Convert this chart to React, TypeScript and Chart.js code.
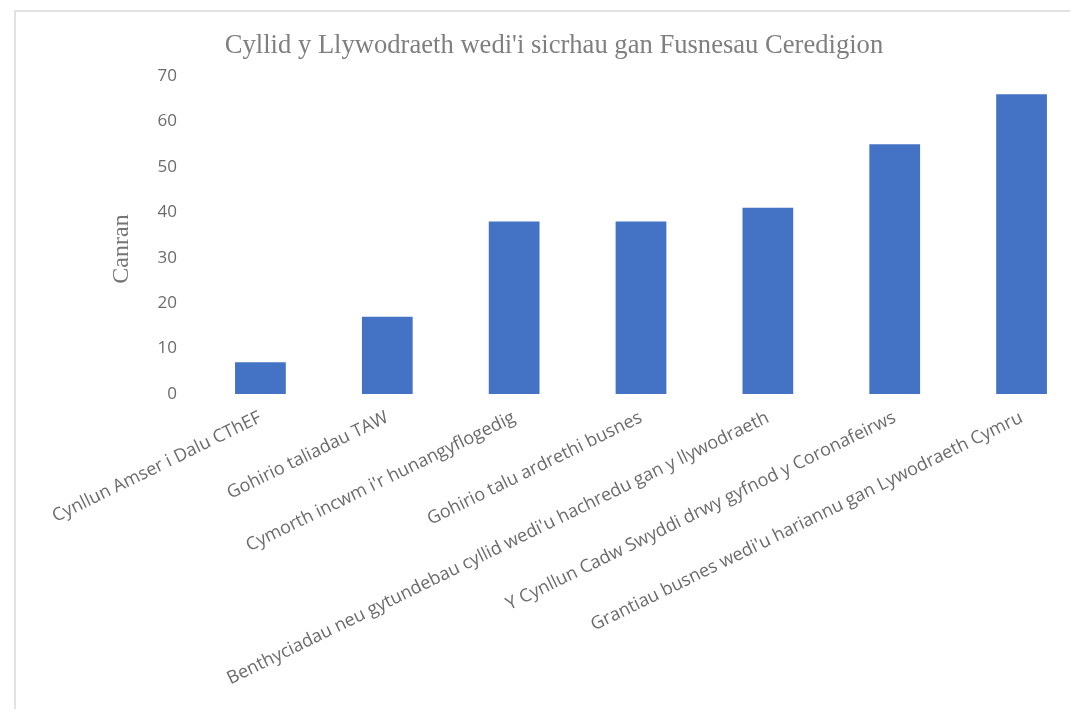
import React, { useEffect, useRef } from "react";
import { Chart, registerables } from "chart.js";

Chart.register(...registerables);

const chartTitle = "Cyllid y Llywodraeth wedi'i sicrhau gan Fusnesau Ceredigion";
const yAxisTitle = "Canran";
const categories = [
  "Cynllun Amser i Dalu CThEF",
  "Gohirio taliadau TAW",
  "Cymorth incwm i'r hunangyflogedig",
  "Gohirio talu ardrethi busnes",
  "Benthyciadau neu gytundebau cyllid wedi'u hachredu gan y llywodraeth",
  "Y Cynllun Cadw Swyddi drwy gyfnod y Coronafeirws",
  "Grantiau busnes wedi'u hariannu gan Lywodraeth Cymru",
];
const values = [7, 17, 38, 38, 41, 55, 66];
const yMin = 0;
const yMax = 70;
const yStep = 10;

const yTitlePlugin = {
  id: "yTitleCustom",
  afterDraw(chart: any) {
    const ctx = chart.ctx;
    const area = chart.chartArea;
    ctx.save();
    ctx.translate(106, (area.top + area.bottom) / 2 + 14);
    ctx.rotate(-Math.PI / 2);
    ctx.font = "24px 'Liberation Serif', serif";
    ctx.fillStyle = "#767676";
    ctx.textAlign = "center";
    ctx.textBaseline = "middle";
    ctx.fillText(yAxisTitle, 0, 0);
    ctx.restore();
  },
};

export default function App() {
  const canvasRef = useRef<HTMLCanvasElement | null>(null);

  useEffect(() => {
    if (!canvasRef.current) return;
    const chart = new Chart(canvasRef.current, {
      type: "bar",
      data: {
        labels: categories,
        datasets: [
          {
            data: values,
            backgroundColor: "#4472C4",
            borderWidth: 0,
            categoryPercentage: 1,
            barPercentage: 0.4,
          },
        ],
      },
      plugins: [yTitlePlugin],
      options: {
        animation: false,
        responsive: false,
        layout: { padding: { left: 7, right: 31, top: 0, bottom: 0 } },
        plugins: {
          legend: { display: false },
          tooltip: { enabled: false },
          title: {
            display: true,
            text: chartTitle,
            color: "#7f7f7f",
            font: { family: "'Liberation Serif', serif", size: 26.6, weight: "normal" },
            padding: { top: 18, bottom: 14.1 },
          },
        },
        scales: {
          x: {
            grid: { display: false, drawTicks: false },
            border: { display: false },
            ticks: {
              color: "#6b6b6b",
              font: { family: "'Open Sans', sans-serif", size: 18 },
              minRotation: 26,
              maxRotation: 26,
              autoSkip: false,
              padding: 13,
            },
            afterFit: (scale: any) => {
              scale.height = 358;
            },
          },
          y: {
            min: yMin,
            max: yMax,
            grid: { display: false, drawTicks: false },
            border: { display: false },
            ticks: {
              stepSize: yStep,
              color: "#6b6b6b",
              font: { family: "'Open Sans', sans-serif", size: 17 },
              padding: 20,
            },
            afterFit: (scale: any) => {
              scale.width = 174;
            },
          },
        },
      },
    });
    return () => chart.destroy();
  }, []);

  return (
    <div style={{ position: "relative", width: 1070, height: 701, overflow: "hidden" }}>
      <div
        style={{
          position: "absolute",
          left: 6,
          top: 2,
          width: 1100,
          height: 740,
          border: "2px solid #e2e2e2",
          background: "#fff",
        }}
      >
        <canvas ref={canvasRef} width={1100} height={740} style={{ display: "block" }} />
      </div>
    </div>
  );
}
